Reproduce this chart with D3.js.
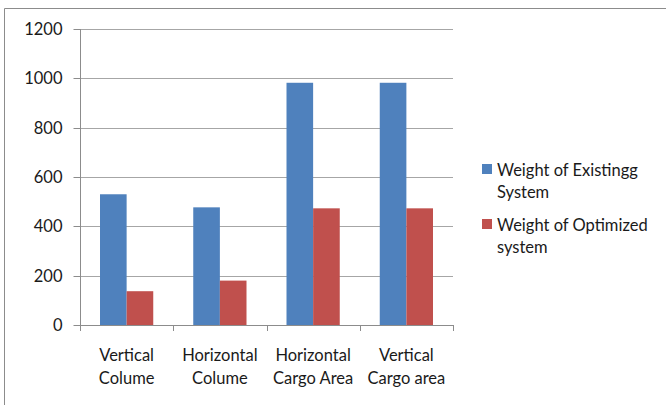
<!DOCTYPE html>
<html>
<head>
<meta charset="utf-8">
<script src="https://cdn.jsdelivr.net/npm/d3@7"></script>
<style>
  html, body { margin: 0; padding: 0; background: #fff; }
  svg { display: block; font-family: Lato, "Open Sans", sans-serif; }
</style>
</head>
<body>
<svg id="chart" width="666" height="405"></svg>
<script>
// Categories, series and axis ticks
const categories = [["Vertical", "Colume"], ["Horizontal", "Colume"], ["Horizontal", "Cargo Area"], ["Vertical", "Cargo area"]];
const existingWeights = [530, 477, 982, 982];
const optimizedWeights = [137, 180, 473, 473];
const seriesNames = [["Weight of Existingg", "System"], ["Weight of Optimized", "system"]];
const seriesColors = ["#4f81bd", "#c0504d"];
const yTicks = [0, 200, 400, 600, 800, 1000, 1200];

const fontSize = "16.5px";
const textColor = "#1a1a1a";
const svg = d3.select("#chart");
const plotLeft = 80, plotRight = 453, plotTop = 29, plotBottom = 325;

// Outer frame (left and top edges)
svg.append("path")
  .attr("d", "M4.5,405 V8.5 H666")
  .attr("fill", "none").attr("stroke", "#8c8c8c").attr("stroke-width", 1);

const y = d3.scaleLinear().domain([0, 1200]).range([plotBottom, plotTop]);
const x0 = d3.scaleBand().domain(d3.range(categories.length)).range([plotLeft, plotRight]);
const x1 = d3.scaleBand().domain([0, 1])
  .range([20, x0.bandwidth() - 20]);

// Horizontal gridlines
svg.append("g").selectAll("line").data(yTicks.filter(d => d > 0)).join("line")
  .attr("x1", plotLeft).attr("x2", plotRight)
  .attr("y1", d => Math.round(y(d)) + 0.5).attr("y2", d => Math.round(y(d)) + 0.5)
  .attr("stroke", "#a6a6a6");

// Bars
const series = [existingWeights, optimizedWeights];
series.forEach((vals, s) => {
  svg.append("g").selectAll("rect").data(vals).join("rect")
    .attr("x", (d, i) => x0(i) + x1(s))
    .attr("width", x1.bandwidth())
    .attr("y", d => y(d))
    .attr("height", d => plotBottom - y(d))
    .attr("fill", seriesColors[s]);
});

// Y axis
const yAxis = svg.append("g").attr("transform", `translate(${plotLeft + 0.5},0)`)
  .call(d3.axisLeft(y).tickValues(yTicks).tickSize(7).tickPadding(11).tickFormat(d3.format("d")));
yAxis.select(".domain").attr("stroke", "#8c8c8c").attr("d", `M0,${plotTop}V${plotBottom + 5}`);
yAxis.selectAll(".tick line").attr("stroke", "#8c8c8c");
yAxis.selectAll(".tick text").attr("fill", textColor).attr("font-size", fontSize)
  .attr("font-family", "Lato, sans-serif");
yAxis.selectAll(".tick").attr("transform", d => `translate(0,${Math.round(y(d)) + 0.5})`);

// X axis line and tick marks between categories
const xg = svg.append("g");
xg.append("line").attr("x1", plotLeft).attr("x2", plotRight + 0.5)
  .attr("y1", plotBottom + 0.5).attr("y2", plotBottom + 0.5).attr("stroke", "#8c8c8c");
xg.selectAll("line.tk").data(d3.range(categories.length + 1)).join("line").attr("class", "tk")
  .attr("x1", i => Math.round(plotLeft + i * x0.step()) + 0.5)
  .attr("x2", i => Math.round(plotLeft + i * x0.step()) + 0.5)
  .attr("y1", plotBottom).attr("y2", plotBottom + 6).attr("stroke", "#8c8c8c");

// Category labels
xg.selectAll("text").data(categories).join("text")
  .attr("x", (d, i) => x0(i) + x0.bandwidth() / 2)
  .attr("y", 361)
  .attr("text-anchor", "middle").attr("font-size", fontSize).attr("fill", textColor)
  .each(function(d) {
    const cx = d3.select(this).attr("x");
    d3.select(this).selectAll("tspan").data(d).join("tspan")
      .attr("x", cx)
      .attr("dy", (t, j) => j === 0 ? 0 : 23)
      .text(t => t);
  });

// Legend
const legend = svg.append("g");
seriesNames.forEach((lines, s) => {
  const gy = 164 + s * 55;
  legend.append("rect").attr("x", 482).attr("y", gy).attr("width", 10).attr("height", 10)
    .attr("fill", seriesColors[s]);
  const t = legend.append("text").attr("x", 497).attr("y", gy + 11.5)
    .attr("font-size", fontSize).attr("fill", textColor);
  lines.forEach((ln, j) => {
    t.append("tspan").attr("x", 497).attr("dy", j === 0 ? 0 : 22).text(ln);
  });
});
</script>
</body>
</html>
